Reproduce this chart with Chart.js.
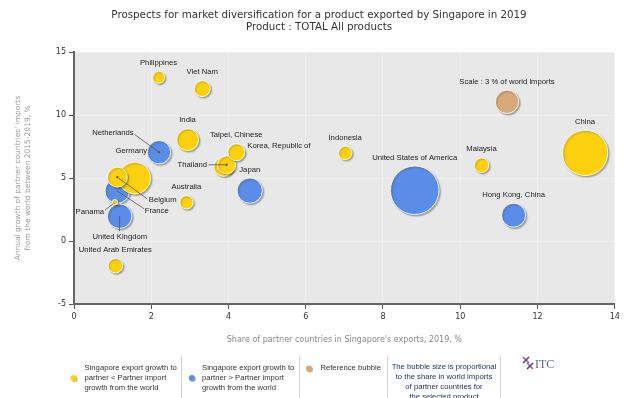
<!DOCTYPE html>
<html>
<head>
<meta charset="utf-8">
<script src="https://cdn.jsdelivr.net/npm/chart.js@4.4.1/dist/chart.umd.min.js"></script>
<style>
body{margin:0;background:#fff}
</style>
</head>
<body>
<canvas id="grafico" width="640" height="398"></canvas>
<script>
// partner countries (draw order: first drawn at the back)
const paises = ['United States of America','China','France','Germany','Netherlands','United Kingdom','Japan','Hong Kong, China','Belgium','India','Korea, Republic of','Thailand','Taipei, Chinese','Viet Nam','Malaysia','United Arab Emirates','Australia','Indonesia','Philippines','Panama']
// share of partner in Singapore's exports 2019, %
const shareExport = [8.82, 13.23, 1.12, 1.57, 2.2, 1.18, 4.55, 11.38, 1.12, 2.94, 3.87, 3.95, 4.2, 3.32, 10.55, 1.07, 2.91, 7.02, 2.19, 1.06]
// annual growth of partner imports from world 2015-2019, %
const crescImport = [4.03, 7.0, 3.97, 5.0, 7.05, 1.97, 4.0, 2.05, 5.07, 8.05, 5.9, 6.05, 7.05, 12.1, 6.02, -1.95, 3.08, 7.0, 13.0, 3.08]
// share of partner in world imports, % (bubble size)
const shareMundo = [12.9, 11.3, 3.3, 5.6, 3.0, 3.3, 3.5, 3.15, 2.2, 2.65, 2.0, 1.8, 1.6, 1.4, 1.17, 1.17, 1.0, 1.0, 0.8, 0.15]
// 'menor' = SG export growth < partner import growth, 'maior' = >
const grupo = ['maior','menor','maior','menor','maior','maior','maior','maior','menor','menor','menor','menor','menor','menor','menor','menor','menor','menor','menor','menor']

// reference bubble
const refX = 11.21
const refY = 11.05
const refShare = 3

const xTicks = [0, 2, 4, 6, 8, 10, 12, 14]
const yTicks = [-5, 0, 5, 10, 15]

const titulo = ['Prospects for market diversification for a product exported by Singapore in 2019', 'Product : TOTAL All products']

const AMARELO = '#FDD10F'
const AZUL = '#5B8DE8'
const BEGE = '#D9A878'
const RAIO_REF = 11.7  // px radius of the 3% reference bubble

function raio(share){
    return RAIO_REF * Math.sqrt(share / refShare)
}

// label placement: 'top' or offsets from bubble centre
const rotulos = {
    'France': {dx: 27.5, dy: 19.5, align: 'left', line: [0, 0, 26.8, 17.8]},
    'Germany': {dx: 12.4, dy: -26.8, align: 'right'},
    'Netherlands': {dx: -46, dy: -19.4, align: 'center', line: [-24.4, -17.7, 0, 0], dot: true},
    'United Kingdom': {dx: 0.2, dy: 20.6, align: 'center', line: [0, 0, 0, 15]},
    'Belgium': {dx: 31.5, dy: 22.4, align: 'left', line: [0, 0, 30, 21.7], dot: true},
    'Korea, Republic of': {dx: 23.8, dy: -20.5, align: 'left'},
    'Thailand': {dx: -19.6, dy: 0, align: 'right', line: [-18, 0, 0, 0], dot: true},
    'Panama': {dx: -10.8, dy: 9.6, align: 'right', line: [-10, 8, -1.5, 1.3]}
}

const pontos = paises.map((p, i) => ({x: shareExport[i], y: crescImport[i], r: raio(shareMundo[i])}))
const cores = grupo.map(g => g === 'maior' ? AZUL : AMARELO)

const ctx = document.getElementById('grafico').getContext('2d')

const fundo = {
    id: 'fundo',
    beforeDraw(chart){
        const a = chart.chartArea
        const c = chart.ctx
        c.save()
        c.fillStyle = '#e8e8e9'
        c.fillRect(a.left, a.top, a.right - a.left, a.bottom - a.top)
        // title
        c.fillStyle = '#333'
        c.font = '10.3px "DejaVu Sans", Verdana, sans-serif'
        c.textAlign = 'center'
        c.textBaseline = 'middle'
        c.fillText(titulo[0], 319, 15.5)
        c.fillText(titulo[1], 319, 27.7)
        c.restore()
    },
    beforeDatasetsDraw(chart){
        const c = chart.ctx
        c.save()
        c.shadowColor = 'rgba(0,0,0,0.28)'
        c.shadowOffsetX = 1.5
        c.shadowOffsetY = 1.5
        c.shadowBlur = 1.5
    },
    afterDatasetsDraw(chart){
        chart.ctx.restore()
        desenharRotulos(chart)
    },
    afterDraw(chart){
        desenharLegenda(chart)
    }
}

function desenharRotulos(chart){
    const c = chart.ctx
    const sx = chart.scales.x
    const sy = chart.scales.y
    c.save()
    c.font = '7.7px "Liberation Sans", Arial, sans-serif'
    c.textBaseline = 'middle'
    c.fillStyle = '#222'
    c.strokeStyle = '#555'
    c.lineWidth = 0.8
    const todos = paises.map((p, i) => ({nome: p, x: shareExport[i], y: crescImport[i], r: raio(shareMundo[i])}))
    todos.push({nome: 'Scale : 3 % of world imports', x: refX, y: refY, r: raio(refShare)})
    todos.forEach(t => {
        const cx = sx.getPixelForValue(t.x)
        const cy = sy.getPixelForValue(t.y)
        const l = rotulos[t.nome]
        if(l){
            if(l.line){
                c.beginPath()
                c.moveTo(cx + l.line[0], cy + l.line[1])
                c.lineTo(cx + l.line[2], cy + l.line[3])
                c.stroke()
            }
            if(l.dot){
                c.fillStyle = '#6a5a20'
                c.beginPath()
                c.arc(cx, cy, 1.2, 0, Math.PI * 2)
                c.fill()
                c.fillStyle = '#222'
            }
            c.textAlign = l.align
            c.fillText(t.nome, cx + l.dx, cy + l.dy)
        } else {
            c.textAlign = 'center'
            c.fillText(t.nome, cx, cy - t.r - 8.5)
        }
    })
    c.restore()
}

function bolinha(c, x, y, r, cor){
    c.save()
    c.shadowColor = 'rgba(0,0,0,0.3)'
    c.shadowOffsetX = 1
    c.shadowOffsetY = 1
    c.fillStyle = cor
    c.beginPath()
    c.arc(x, y, r, 0, Math.PI * 2)
    c.fill()
    c.restore()
}

function desenharLegenda(chart){
    const c = chart.ctx
    c.save()
    c.font = '7.7px "Liberation Sans", Arial, sans-serif'
    c.textBaseline = 'middle'
    c.fillStyle = '#333'
    c.textAlign = 'left'

    bolinha(c, 73.5, 378, 3, AMARELO)
    ;['Singapore export growth to', 'partner < Partner import', 'growth from the world'].forEach((s, i) => c.fillText(s, 84.5, 368 + i * 9.8))

    bolinha(c, 191.8, 378, 3, AZUL)
    ;['Singapore export growth to', 'partner > Partner import', 'growth from the world'].forEach((s, i) => c.fillText(s, 202, 368 + i * 9.8))

    bolinha(c, 309, 368.5, 3, BEGE)
    c.fillText('Reference bubble', 320.4, 368)

    c.fillStyle = '#1f3566'
    c.textAlign = 'center'
    ;['The bubble size is proportional', 'to the share in world imports', 'of partner countries for', 'the selected product'].forEach((s, i) => c.fillText(s, 444, 367 + i * 9.8))

    // separators
    c.strokeStyle = '#d4d4d4'
    c.lineWidth = 1
    ;[181.5, 299.5, 387.5, 500.5].forEach(x => {
        c.beginPath()
        c.moveTo(x, 356)
        c.lineTo(x, 398)
        c.stroke()
    })

    // ITC logo
    c.lineWidth = 1.6
    c.strokeStyle = '#d9467a'
    c.beginPath(); c.moveTo(523, 357); c.lineTo(529, 363); c.stroke()
    c.strokeStyle = '#2d4f9c'
    c.beginPath(); c.moveTo(529, 357); c.lineTo(523, 363); c.stroke()
    c.strokeStyle = '#d9467a'
    c.beginPath(); c.moveTo(527, 363); c.lineTo(533, 369); c.stroke()
    c.strokeStyle = '#2d4f9c'
    c.beginPath(); c.moveTo(533, 363); c.lineTo(527, 369); c.stroke()
    c.fillStyle = '#5a6a8a'
    c.font = '12px "Liberation Serif", serif'
    c.textAlign = 'left'
    c.fillText('ITC', 535, 365)
    c.restore()
}

new Chart(ctx, {
    type: 'bubble',
    data: {
        datasets: [{
            label: 'Partners',
            data: pontos,
            backgroundColor: cores,
            borderColor: 'rgba(255,255,255,0.85)',
            borderWidth: 1,
            hoverRadius: 0
        }, {
            label: 'Reference bubble',
            data: [{x: refX, y: refY, r: raio(refShare)}],
            backgroundColor: BEGE,
            borderColor: 'rgba(255,255,255,0.85)',
            borderWidth: 1
        }]
    },
    options: {
        responsive: false,
        animation: false,
        layout: {padding: {left: 0, right: 23, top: 52, bottom: 0}},
        plugins: {
            legend: {display: false},
            tooltip: {enabled: false},
            title: {display: false}
        },
        scales: {
            x: {
                type: 'linear',
                min: 0,
                max: 14,
                afterBuildTicks(scale){ scale.ticks = xTicks.map(v => ({value: v})) },
                afterFit(scale){ scale.height = 94 },
                ticks: {color: '#333', font: {family: '"DejaVu Sans", Verdana, sans-serif', size: 8}, padding: 3, maxRotation: 0},
                grid: {color: 'rgba(255,255,255,0.3)', tickColor: '#555', tickLength: 5},
                border: {color: '#666', width: 2},
                title: {
                    display: true,
                    text: "Share of partner countries in Singapore's exports, 2019, %",
                    color: '#8a8a8a',
                    font: {family: '"DejaVu Sans", Verdana, sans-serif', size: 8, lineHeight: 1.2},
                    padding: {top: 0, bottom: 53}
                }
            },
            y: {
                type: 'linear',
                min: -5,
                max: 15,
                afterBuildTicks(scale){ scale.ticks = yTicks.map(v => ({value: v})) },
                afterFit(scale){ scale.width = 74 },
                ticks: {color: '#333', font: {family: '"DejaVu Sans", Verdana, sans-serif', size: 8}, padding: 3},
                grid: {color: 'rgba(255,255,255,0.3)', tickColor: '#555', tickLength: 5},
                border: {color: '#666', width: 2},
                title: {
                    display: true,
                    text: ["Annual growth of partner countries' imports", 'from the world between 2015-2019, %'],
                    color: '#9a9a9a',
                    font: {family: '"DejaVu Sans", Verdana, sans-serif', size: 7.5, lineHeight: 1.333},
                    padding: {top: 13, bottom: 0}
                }
            }
        }
    },
    plugins: [fundo]
})
</script>
</body>
</html>
